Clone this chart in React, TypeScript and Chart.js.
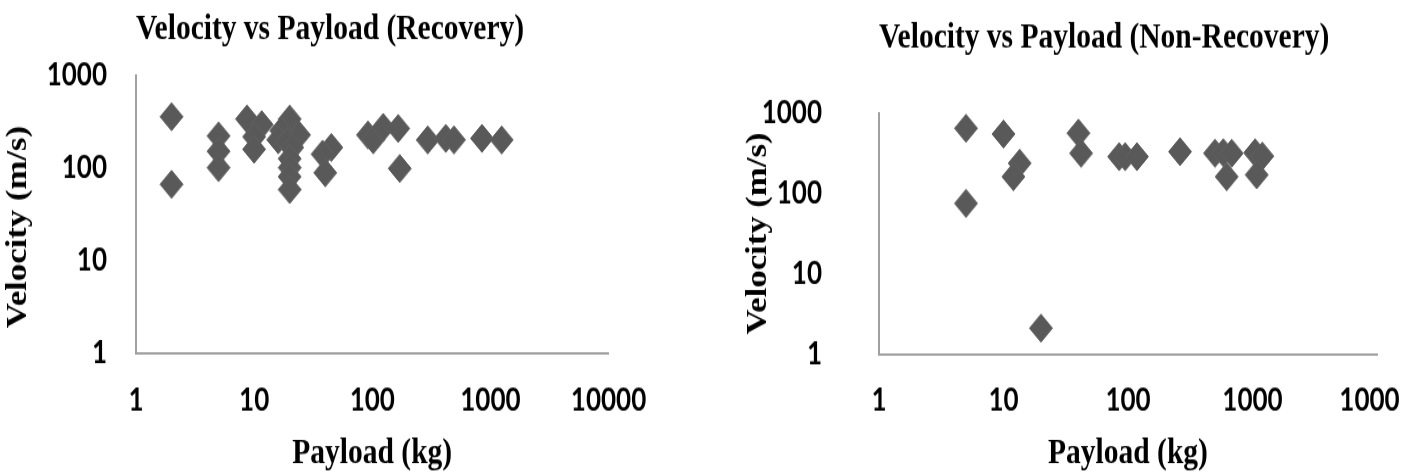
import React, { useEffect, useRef } from 'react';
import { Chart, registerables } from 'chart.js';

Chart.register(...registerables);

// ---------- data ----------
const recoveryPayload = [2, 2, 5, 5, 5, 8.7, 11.6, 10, 10, 20, 17, 24, 16, 19, 21, 20, 20, 20, 20, 45, 38, 40, 92, 102, 124, 166, 171, 295, 419, 492, 849, 1247];
const recoveryVelocity = [355, 66, 220, 150, 100, 335, 291, 216, 158, 335, 250, 225, 200, 190, 165, 125, 100, 80, 58, 165, 140, 88, 225, 200, 272, 265, 98, 199, 207, 199, 207, 199];

const nonRecoveryPayload = [5, 5, 10, 13.5, 12, 20, 40, 42, 85, 95, 118, 262, 500, 583, 681, 621, 1050, 1200, 1080];
const nonRecoveryVelocity = [646, 75, 548, 237, 161, 2.1, 560, 315, 286, 286, 286, 330, 315, 320, 315, 161, 320, 290, 170];

const xTickValues = [1, 10, 100, 1000, 10000];
const yTickValues = [1, 10, 100, 1000];

const titleLeft = 'Velocity vs Payload (Recovery)';
const titleRight = 'Velocity vs Payload (Non-Recovery)';
const xAxisTitle = 'Payload (kg)';
const yAxisTitle = 'Velocity (m/s)';

// ---------- styling ----------
const CSS_H = 474;
const INNER_H = 389;
const SERIF = "'Liberation Serif', 'Times New Roman', serif";
const SANS = "Lato, 'Liberation Sans', sans-serif";
const MARKER = '#595959';
const AXIS = '#a0a0a0';

type Layout = {
  title: string;
  xs: number[];
  ys: number[];
  titlePad: { top: number; bottom: number };
  yTitlePad: number;
  yTitleShift: number;
  yTickPad: number;
  yWidth: number;
  xHeight: number;
  xTickPad: number;
  padRight: number;
};

function buildConfig(l: Layout): any {
  const points = l.xs.map((x, i) => ({ x, y: l.ys[i] }));
  return {
    type: 'scatter',
    data: {
      datasets: [
        {
          data: points,
          pointStyle: 'rectRot',
          pointRadius: 11.5,
          pointHoverRadius: 11.5,
          backgroundColor: MARKER,
          borderColor: '#616161',
          borderWidth: 1,
          clip: false,
        },
      ],
    },
    options: {
      responsive: false,
      animation: false,
      events: [],
      layout: { padding: { left: 0, top: 0, right: l.padRight, bottom: 0 } },
      plugins: {
        legend: { display: false },
        tooltip: { enabled: false },
        title: {
          display: true,
          text: l.title,
          align: 'start',
          fullSize: false,
          color: '#000',
          font: { family: SERIF, size: 29.5, weight: 'bold', lineHeight: 1.2 },
          padding: l.titlePad,
        },
      },
      scales: {
        x: {
          type: 'logarithmic',
          min: 1,
          max: 10000,
          afterBuildTicks: (s: any) => {
            s.ticks = xTickValues.map((v) => ({ value: v }));
          },
          afterFit: (s: any) => {
            s.height = l.xHeight;
          },
          grid: { display: false, drawTicks: false },
          border: { display: true, color: AXIS, width: 2 },
          ticks: {
            autoSkip: false,
            maxRotation: 0,
            padding: l.xTickPad,
            color: '#000',
            font: { family: SANS, size: 26, weight: 'bold', lineHeight: 1.2 },
            callback: (v: any) => String(v),
          },
          title: {
            display: true,
            text: xAxisTitle,
            color: '#000',
            font: { family: SERIF, size: 29.5, weight: 'bold', lineHeight: 1.1 },
            padding: { top: 0, bottom: 0 },
          },
        },
        y: {
          type: 'logarithmic',
          min: 1,
          max: 1000,
          afterBuildTicks: (s: any) => {
            s.ticks = yTickValues.map((v) => ({ value: v }));
          },
          afterFit: (s: any) => {
            s.width = l.yWidth;
          },
          grid: { display: false, drawTicks: false },
          border: { display: true, color: AXIS, width: 2 },
          ticks: {
            autoSkip: false,
            padding: l.yTickPad,
            color: '#000',
            font: { family: SANS, size: 26, weight: 'bold', lineHeight: 1.2 },
            callback: (v: any) => String(v),
          },
          title: {
            display: true,
            // trailing spaces move the centred, rotated title a little lower, as in the source
            text: yAxisTitle + ' '.repeat(l.yTitleShift),
            color: '#000',
            font: { family: SERIF, size: 28.5, weight: 'bold', lineHeight: 1.2 },
            padding: { top: l.yTitlePad, bottom: 0 },
          },
        },
      },
    },
  };
}

function ScatterPanel({ layout, width }: { layout: Layout; width: number }) {
  const ref = useRef<HTMLCanvasElement | null>(null);
  useEffect(() => {
    if (!ref.current) return;
    const chart = new Chart(ref.current, buildConfig(layout));
    return () => chart.destroy();
  }, []);
  return (
    <canvas
      ref={ref}
      width={width}
      height={INNER_H}
      style={{ width: width + 'px', height: CSS_H + 'px', display: 'block' }}
    />
  );
}

const s = CSS_H / INNER_H;

const leftLayout: Layout = {
  title: titleLeft,
  xs: recoveryPayload,
  ys: recoveryVelocity,
  titlePad: { top: 7, bottom: 75 / s - 7 - 35.4 },
  yTitlePad: 2,
  yTitleShift: 3,
  yTickPad: 29,
  yWidth: 136,
  xHeight: INNER_H - 353 / s,
  xTickPad: 401 / s - 353 / s - 15.6,
  padRight: 670 - 615,
};

const rightLayout: Layout = {
  title: titleRight,
  xs: nonRecoveryPayload,
  ys: nonRecoveryVelocity,
  titlePad: { top: 14, bottom: 113 / s - 14 - 35.4 },
  yTitlePad: 42,
  yTitleShift: 0,
  yTickPad: 57,
  yWidth: 879 - 700,
  xHeight: INNER_H - 354 / s,
  xTickPad: 401 / s - 354 / s - 15.6,
  padRight: 760 - (1377 - 700),
};

export default function App() {
  return (
    <div
      style={{
        position: 'fixed',
        left: 0,
        top: 0,
        width: 1419,
        height: 474,
        background: '#fff',
        overflow: 'hidden',
      }}
    >
      <div style={{ position: 'absolute', left: 0, top: 0, width: 670, height: 474 }}>
        <ScatterPanel layout={leftLayout} width={670} />
      </div>
      <div style={{ position: 'absolute', left: 700, top: 0, width: 700, height: 474, overflow: 'hidden' }}>
        <ScatterPanel layout={rightLayout} width={760} />
      </div>
    </div>
  );
}
